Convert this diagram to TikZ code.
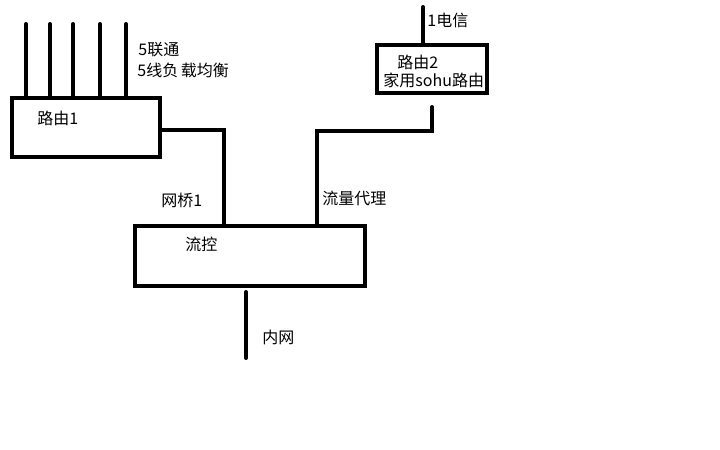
\documentclass[tikz,border=0pt]{standalone}
\usepackage{fontspec}
\newfontfamily\cjk{Noto Sans CJK SC}
\usetikzlibrary{positioning,calc}
\definecolor{inkblack}{gray}{0}

\begin{document}
\begin{tikzpicture}[x=0.5pt,y=-0.5pt,
  wire/.style={inkblack,line width=2pt,line cap=round},
  box/.style={draw=inkblack,line width=2pt,rectangle,inner sep=0pt},
  lbl/.style={font=\cjk\fontsize{8}{10}\selectfont,anchor=west,inner sep=0pt}]
  \path[fill=white,use as bounding box] (0,0) rectangle (720,450);
  % routers and flow control
  \node[box,minimum width=74pt,minimum height=29.5pt] (rt1) at (86,127.5) {};
  \node[box,minimum width=55pt,minimum height=24pt] (rt2) at (432,69) {};
  \node[box,minimum width=115pt,minimum height=30pt] (fc) at (250,256) {};
  % uplinks
  \foreach \ux in {26,50,73,100,126}
    \draw[wire] (\ux,24) -- (\ux,24 |- rt1.north);
  \coordinate (tel) at (423,7);
  \draw[wire] (tel) -- (tel |- rt2.north);
  % links to flow control
  \coordinate (bridge) at ($(fc.north west)!0.387!(fc.north east)$);
  \coordinate (proxy) at ($(fc.north west)!0.787!(fc.north east)$);
  \draw[wire] ([yshift=-1.25pt]rt1.east) -| (bridge);
  \draw[wire,shorten <=6pt] (rt2.south) |- ($(proxy)+(0,-93)$) -- (proxy);
  \coordinate (lan) at (246,358);
  \draw[wire,shorten <=2pt] (fc.south -| lan) -- (lan);
  % labels
  \node[lbl] (unicom) at (138,50) {5联通};
  \node[lbl] (balance) at (137,70) {5线负\,载均衡};
  \node[lbl] (rt1lbl) at (37,118) {路由1};
  \node[lbl] (bridgelbl) at (161,200) {网桥1};
  \node[lbl] (fclbl) at (185,244) {流控};
  \node[lbl] (proxylbl) at (322,198) {流量代理};
  \node[lbl] (lanlbl) at (262,337) {内网};
  \node[lbl] (tellbl) at (427,20) {1电信};
  \node[lbl] (rt2lbl) at (397,62) {路由2};
  \node[lbl] (sohulbl) at (383,80) {家用sohu路由};
\end{tikzpicture}
\end{document}
